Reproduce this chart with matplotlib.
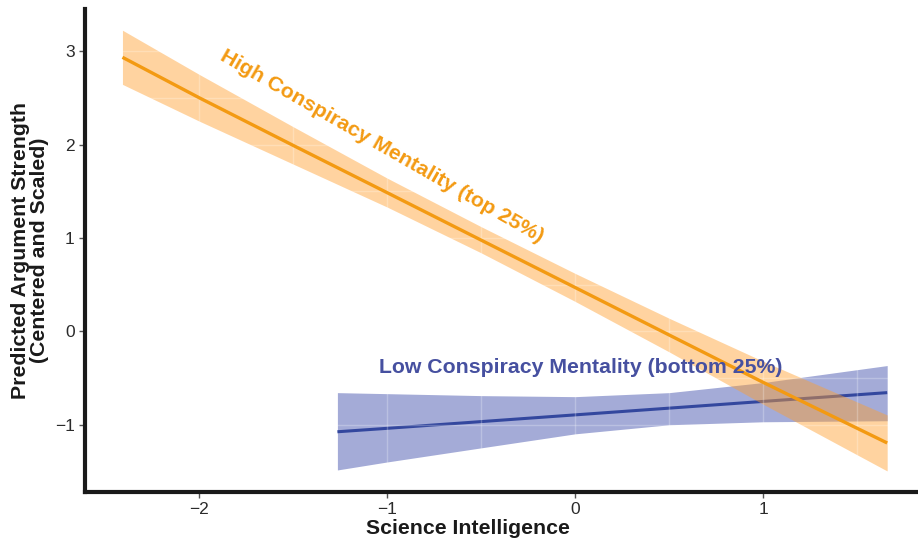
import matplotlib
matplotlib.use("Agg")
import matplotlib.pyplot as plt
from matplotlib.ticker import MultipleLocator

# ---- data ----
high_x = [-2.41, -2.0, -1.5, -1.0, -0.5, 0.0, 0.5, 1.0, 1.66]
high_fit = [2.935, 2.50, 1.99, 1.484, 0.976, 0.469, -0.039, -0.546, -1.195]
high_upper = [3.225, 2.75, 2.19, 1.64, 1.12, 0.62, 0.14, -0.32, -0.895]
high_lower = [2.645, 2.25, 1.79, 1.33, 0.84, 0.32, -0.22, -0.78, -1.495]

low_x = [-1.266, -1.0, -0.5, 0.0, 0.5, 1.0, 1.66]
low_fit = [-1.075, -1.038, -0.966, -0.894, -0.822, -0.750, -0.656]
low_upper = [-0.656, -0.667, -0.688, -0.699, -0.656, -0.548, -0.366]
low_lower = [-1.484, -1.398, -1.247, -1.097, -1.000, -0.968, -0.957]

high_label = "High Conspiracy Mentality (top 25%)"
low_label = "Low Conspiracy Mentality (bottom 25%)"
x_label = "Science Intelligence"
y_label = "Predicted Argument Strength\n(Centered and Scaled)"
x_ticks = [-2, -1, 0, 1]
y_ticks = [-1, 0, 1, 2, 3]

ORANGE = "#F39A12"
ORANGE_FILL = "#FF9F2E"
BLUE = "#33479E"
BLUE_FILL = "#3545A8"
BLUE_TEXT = "#4650A0"

plt.rcParams['font.family'] = ['Liberation Sans', 'DejaVu Sans']

fig = plt.figure(figsize=(9.18, 5.46), dpi=100)
ax = fig.add_axes([84.5 / 918, 1 - 492 / 546, 1 - 84.5 / 918, (492 - 9) / 546])

ax.fill_between(low_x, low_lower, low_upper, color=BLUE_FILL, alpha=0.45,
                linewidth=0, zorder=1)
ax.plot(low_x, low_fit, color=BLUE, linewidth=2.2, zorder=2,
        solid_capstyle='butt')
ax.fill_between(high_x, high_lower, high_upper, color=ORANGE_FILL, alpha=0.45,
                linewidth=0, zorder=3)
ax.plot(high_x, high_fit, color=ORANGE, linewidth=2.4, zorder=5,
        solid_capstyle='butt')

ax.set_xlim(-2.612, 1.824)
ax.set_ylim(-1.72, 3.452)
ax.set_xticks(x_ticks)
ax.set_yticks(y_ticks)
ax.set_xticklabels(["\u2212" + str(abs(t)) if t < 0 else str(t) for t in x_ticks])
ax.set_yticklabels(["\u2212" + str(abs(t)) if t < 0 else str(t) for t in y_ticks])
ax.xaxis.set_minor_locator(MultipleLocator(0.5))
ax.yaxis.set_minor_locator(MultipleLocator(0.5))
ax.grid(which='both', color='white', alpha=0.25, linewidth=1.0)
ax.xaxis.set_zorder(4)
ax.yaxis.set_zorder(4)
ax.tick_params(which='minor', length=0)
ax.tick_params(which='major', length=4, width=1.0, color='#555555',
               labelsize=12.5, labelcolor='#2b2b2b', pad=3)

for s in ['top', 'right']:
    ax.spines[s].set_visible(False)
for s in ['left', 'bottom']:
    ax.spines[s].set_linewidth(3.0)
    ax.spines[s].set_color('#1a1a1a')
    ax.spines[s].set_zorder(6)

ax.set_xlabel(x_label, fontsize=15.3, fontweight='bold', color='#1a1a1a')
ax.xaxis.set_label_coords((468 - 84.5) / (918 - 84.5), -0.056)
ax.set_ylabel(y_label, fontsize=15.3, fontweight='bold', color='#1a1a1a',
              linespacing=1.0)
ax.yaxis.set_label_coords(-0.043, 0.5)

ax.text(-1.03, 1.98, high_label, color=ORANGE, fontsize=15.3, fontweight='bold',
        rotation=-29.8, rotation_mode='anchor', ha='center', va='center',
        zorder=7)
ax.text(0.03, -0.385, low_label, color=BLUE_TEXT, fontsize=15.3,
        fontweight='bold', ha='center', va='center', zorder=7)

fig.savefig("out.png", dpi=100)
